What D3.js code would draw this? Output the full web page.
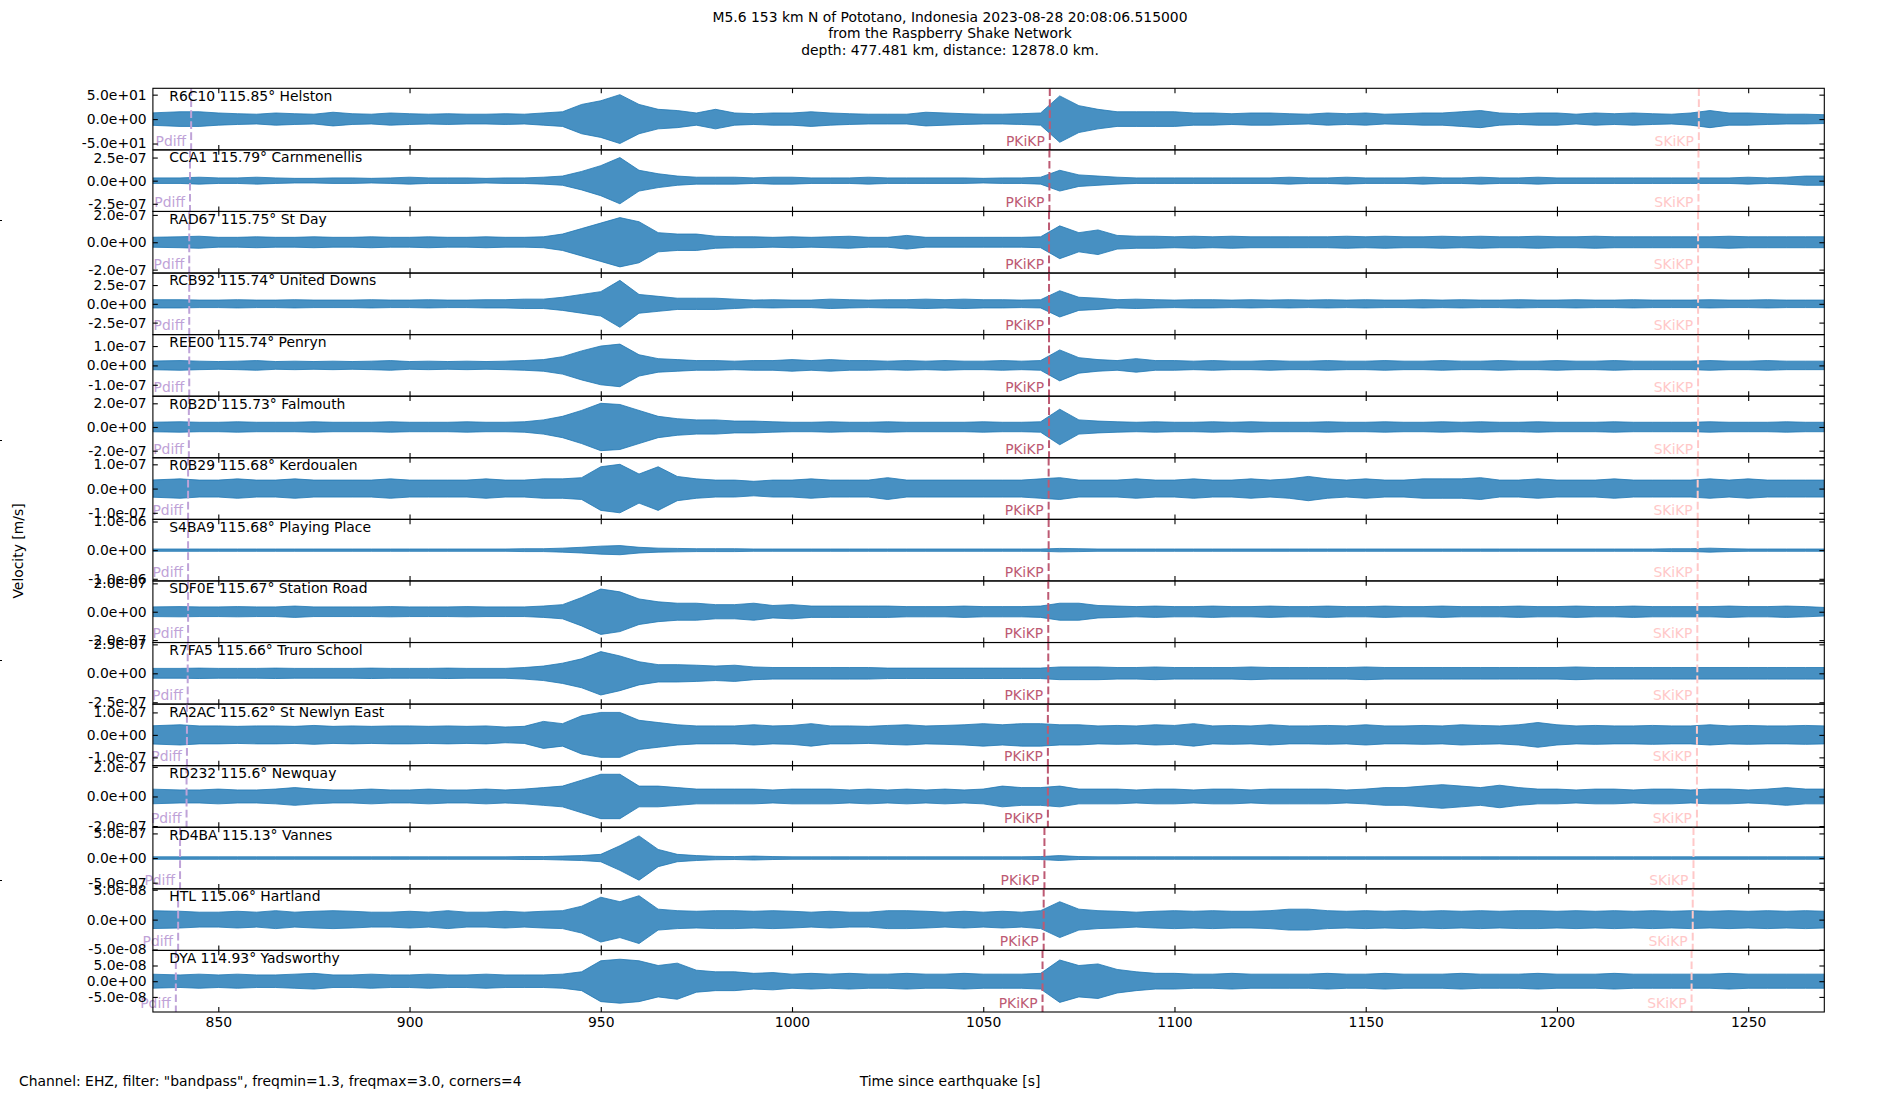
<!DOCTYPE html>
<html>
<head>
<meta charset="utf-8">
<script src="https://cdnjs.cloudflare.com/ajax/libs/d3/7.8.5/d3.min.js"></script>
<style>
  body { margin: 0; background: #fff; }
  svg text { font-family: "DejaVu Sans", sans-serif; }
</style>
</head>
<body>
<div id="chart"></div>
<script>
// ---- data ----
const titleLines = [
  'M5.6 153 km N of Pototano, Indonesia 2023-08-28 20:08:06.515000',
  'from the Raspberry Shake Network',
  'depth: 477.481 km, distance: 12878.0 km.'
];
const footNote = 'Channel: EHZ, filter: "bandpass", freqmin=1.3, freqmax=3.0, corners=4';
const xLabel = 'Time since earthquake [s]';
const yLabel = 'Velocity [m/s]';

const stations = ['R6C10', 'CCA1', 'RAD67', 'RCB92', 'REE00', 'R0B2D', 'R0B29', 'S4BA9',
  'SDF0E', 'R7FA5', 'RA2AC', 'RD232', 'RD4BA', 'HTL', 'DYA'];
const distances = [115.85, 115.79, 115.75, 115.74, 115.74, 115.73, 115.68, 115.68,
  115.67, 115.66, 115.62, 115.6, 115.13, 115.06, 114.93];
const places = ['Helston', 'Carnmenellis', 'St Day', 'United Downs', 'Penryn', 'Falmouth',
  'Kerdoualen', 'Playing Place', 'Station Road', 'Truro School', 'St Newlyn East',
  'Newquay', 'Vannes', 'Hartland', 'Yadsworthy'];

// y tick value (+/-) and the y extent of each row
const yTicks = [50, 2.5e-7, 2.0e-7, 2.5e-7, 1.0e-7, 2.0e-7, 1.0e-7, 1.0e-6,
  2.0e-7, 2.5e-7, 1.0e-7, 2.0e-7, 5.0e-7, 5.0e-8, 5.0e-8];
const yLimits = [63, 3.33e-7, 2.25e-7, 4.1e-7, 1.59e-7, 2.6e-7, 1.27e-7, 1.075e-6,
  2.17e-7, 2.66e-7, 1.37e-7, 2.08e-7, 6.25e-7, 5.15e-8, 9.8e-8];

// phase arrivals per row [s]
const phaseNames = ['Pdiff', 'PKiKP', 'SKiKP'];
const pdiffTimes = [842.9, 842.6, 842.4, 842.4, 842.4, 842.3, 842.1, 842.1,
  842.1, 842.0, 841.8, 841.7, 840.0, 839.5, 838.9];
const pkikpTimes = [1067.4, 1067.3, 1067.2, 1067.2, 1067.2, 1067.2, 1067.1, 1067.1,
  1067.0, 1067.0, 1066.9, 1066.9, 1066.0, 1065.8, 1065.5];
const skikpTimes = [1237.1, 1237.0, 1236.9, 1236.9, 1236.9, 1236.9, 1236.8, 1236.8,
  1236.7, 1236.7, 1236.6, 1236.6, 1235.7, 1235.5, 1235.2];

const xTicks = [850, 900, 950, 1000, 1050, 1100, 1150, 1200, 1250];
const timeRange = [832.9, 1269.9];

// envelope sample times [s]
const sampleTimes = [832, 840, 845, 850, 855, 860, 865, 870, 875, 880,
  885, 890, 895, 900, 905, 910, 915, 920, 925, 930,
  935, 940, 945, 950, 955, 960, 965, 970, 975, 980,
  985, 990, 995, 1000, 1005, 1010, 1015, 1020, 1025, 1030,
  1035, 1040, 1045, 1050, 1055, 1060, 1065, 1070, 1075, 1080,
  1085, 1090, 1095, 1100, 1105, 1110, 1115, 1120, 1125, 1130,
  1135, 1140, 1145, 1150, 1155, 1160, 1165, 1170, 1175, 1180,
  1185, 1190, 1195, 1200, 1205, 1210, 1215, 1220, 1225, 1230,
  1235, 1240, 1245, 1250, 1255, 1260, 1265, 1270];

// trace amplitude envelopes, as multiples of each row's tick value
const envR6C10 = [0.25, 0.3, 0.3, 0.25, 0.22, 0.2, 0.25, 0.22, 0.2, 0.28,
  0.22, 0.2, 0.25, 0.22, 0.2, 0.22, 0.2, 0.2, 0.22, 0.2,
  0.25, 0.3, 0.6, 0.75, 1.0, 0.6, 0.4, 0.35, 0.25, 0.4,
  0.25, 0.22, 0.25, 0.25, 0.3, 0.25, 0.22, 0.2, 0.2, 0.2,
  0.28, 0.25, 0.22, 0.2, 0.2, 0.22, 0.25, 0.95, 0.55, 0.4,
  0.3, 0.3, 0.3, 0.3, 0.25, 0.25, 0.22, 0.25, 0.25, 0.22,
  0.2, 0.25, 0.22, 0.25, 0.2, 0.22, 0.25, 0.25, 0.3, 0.35,
  0.25, 0.22, 0.25, 0.25, 0.2, 0.25, 0.22, 0.25, 0.22, 0.2,
  0.25, 0.35, 0.25, 0.25, 0.22, 0.2, 0.2, 0.18];
const envCCA1 = [0.12, 0.12, 0.15, 0.12, 0.12, 0.15, 0.12, 0.1, 0.1, 0.12,
  0.12, 0.1, 0.12, 0.15, 0.12, 0.12, 0.12, 0.1, 0.12, 0.12,
  0.15, 0.2, 0.4, 0.65, 1.0, 0.45, 0.3, 0.2, 0.15, 0.15,
  0.15, 0.12, 0.15, 0.15, 0.12, 0.12, 0.12, 0.15, 0.12, 0.12,
  0.12, 0.12, 0.12, 0.1, 0.12, 0.12, 0.15, 0.45, 0.25, 0.2,
  0.15, 0.12, 0.12, 0.12, 0.12, 0.12, 0.12, 0.12, 0.12, 0.15,
  0.12, 0.12, 0.15, 0.12, 0.12, 0.12, 0.15, 0.12, 0.12, 0.15,
  0.12, 0.12, 0.15, 0.12, 0.12, 0.12, 0.12, 0.12, 0.12, 0.12,
  0.12, 0.12, 0.12, 0.15, 0.12, 0.15, 0.2, 0.2];
const envRAD67 = [0.18, 0.2, 0.22, 0.18, 0.18, 0.2, 0.18, 0.18, 0.2, 0.18,
  0.18, 0.2, 0.18, 0.18, 0.2, 0.18, 0.18, 0.2, 0.18, 0.18,
  0.2, 0.3, 0.5, 0.7, 0.9, 0.75, 0.35, 0.3, 0.3, 0.22,
  0.2, 0.2, 0.18, 0.2, 0.18, 0.2, 0.22, 0.18, 0.18, 0.25,
  0.18, 0.18, 0.18, 0.18, 0.18, 0.18, 0.2, 0.6, 0.35, 0.45,
  0.25, 0.22, 0.22, 0.2, 0.22, 0.2, 0.22, 0.2, 0.2, 0.2,
  0.2, 0.2, 0.22, 0.2, 0.22, 0.2, 0.2, 0.22, 0.2, 0.22,
  0.2, 0.2, 0.22, 0.2, 0.2, 0.22, 0.2, 0.2, 0.2, 0.2,
  0.2, 0.2, 0.22, 0.2, 0.2, 0.2, 0.2, 0.2];
const envRCB92 = [0.22, 0.22, 0.2, 0.2, 0.22, 0.2, 0.2, 0.22, 0.2, 0.2,
  0.2, 0.22, 0.2, 0.2, 0.22, 0.2, 0.2, 0.22, 0.22, 0.25,
  0.25, 0.35, 0.5, 0.65, 1.25, 0.5, 0.4, 0.3, 0.3, 0.3,
  0.25, 0.2, 0.22, 0.2, 0.2, 0.25, 0.22, 0.2, 0.22, 0.22,
  0.25, 0.22, 0.25, 0.22, 0.22, 0.2, 0.22, 0.7, 0.35, 0.3,
  0.22, 0.25, 0.22, 0.2, 0.22, 0.22, 0.2, 0.22, 0.2, 0.22,
  0.2, 0.22, 0.2, 0.22, 0.2, 0.2, 0.22, 0.2, 0.22, 0.2,
  0.2, 0.22, 0.2, 0.2, 0.22, 0.2, 0.2, 0.22, 0.2, 0.2,
  0.2, 0.22, 0.2, 0.2, 0.22, 0.2, 0.2, 0.2];
const envREE00 = [0.22, 0.25, 0.22, 0.2, 0.22, 0.25, 0.2, 0.22, 0.2, 0.22,
  0.2, 0.22, 0.25, 0.2, 0.22, 0.2, 0.22, 0.2, 0.22, 0.25,
  0.3, 0.45, 0.75, 1.0, 1.1, 0.55, 0.35, 0.3, 0.25, 0.25,
  0.22, 0.25, 0.25, 0.3, 0.25, 0.3, 0.25, 0.25, 0.22, 0.25,
  0.22, 0.25, 0.22, 0.22, 0.25, 0.22, 0.25, 0.8, 0.4, 0.3,
  0.25, 0.35, 0.25, 0.25, 0.22, 0.25, 0.22, 0.22, 0.25, 0.22,
  0.22, 0.25, 0.22, 0.22, 0.25, 0.22, 0.22, 0.25, 0.22, 0.22,
  0.25, 0.22, 0.22, 0.25, 0.22, 0.22, 0.25, 0.22, 0.22, 0.22,
  0.22, 0.25, 0.22, 0.22, 0.25, 0.22, 0.22, 0.22];
const envR0B2D = [0.2, 0.22, 0.2, 0.2, 0.22, 0.2, 0.2, 0.2, 0.22, 0.2,
  0.2, 0.2, 0.22, 0.2, 0.2, 0.2, 0.22, 0.2, 0.2, 0.22,
  0.3, 0.45, 0.7, 1.0, 0.95, 0.7, 0.45, 0.35, 0.3, 0.3,
  0.25, 0.25, 0.22, 0.2, 0.2, 0.22, 0.2, 0.2, 0.22, 0.2,
  0.2, 0.2, 0.2, 0.22, 0.2, 0.2, 0.22, 0.75, 0.3, 0.25,
  0.22, 0.2, 0.22, 0.2, 0.2, 0.22, 0.2, 0.22, 0.2, 0.2,
  0.2, 0.22, 0.2, 0.2, 0.22, 0.2, 0.2, 0.22, 0.2, 0.22,
  0.2, 0.2, 0.22, 0.2, 0.2, 0.2, 0.22, 0.2, 0.2, 0.2,
  0.2, 0.22, 0.2, 0.2, 0.2, 0.22, 0.2, 0.2];
const envR0B29 = [0.35, 0.4, 0.35, 0.35, 0.4, 0.35, 0.35, 0.4, 0.35, 0.35,
  0.35, 0.35, 0.4, 0.35, 0.35, 0.35, 0.35, 0.4, 0.35, 0.35,
  0.4, 0.4, 0.45, 0.9, 1.0, 0.6, 0.9, 0.5, 0.4, 0.35,
  0.35, 0.3, 0.35, 0.35, 0.4, 0.35, 0.35, 0.35, 0.45, 0.35,
  0.35, 0.35, 0.35, 0.35, 0.35, 0.35, 0.4, 0.45, 0.35, 0.35,
  0.35, 0.4, 0.35, 0.35, 0.4, 0.35, 0.35, 0.4, 0.35, 0.4,
  0.5, 0.4, 0.35, 0.4, 0.35, 0.35, 0.4, 0.4, 0.4, 0.45,
  0.35, 0.35, 0.4, 0.35, 0.35, 0.35, 0.4, 0.35, 0.35, 0.35,
  0.35, 0.4, 0.35, 0.4, 0.35, 0.35, 0.35, 0.35];
const envS4BA9 = [0.04, 0.04, 0.04, 0.04, 0.04, 0.04, 0.04, 0.04, 0.04, 0.04,
  0.04, 0.04, 0.04, 0.04, 0.04, 0.04, 0.04, 0.04, 0.04, 0.05,
  0.05, 0.07, 0.1, 0.14, 0.16, 0.1, 0.07, 0.06, 0.05, 0.05,
  0.05, 0.04, 0.04, 0.04, 0.04, 0.04, 0.04, 0.04, 0.04, 0.04,
  0.04, 0.04, 0.04, 0.04, 0.04, 0.04, 0.04, 0.06, 0.05, 0.04,
  0.04, 0.04, 0.04, 0.04, 0.04, 0.04, 0.04, 0.04, 0.04, 0.04,
  0.04, 0.04, 0.04, 0.04, 0.04, 0.04, 0.04, 0.04, 0.04, 0.04,
  0.04, 0.04, 0.04, 0.04, 0.04, 0.04, 0.04, 0.04, 0.04, 0.05,
  0.05, 0.07, 0.05, 0.04, 0.04, 0.04, 0.04, 0.04];
const envSDF0E = [0.17, 0.18, 0.17, 0.17, 0.18, 0.17, 0.17, 0.2, 0.17, 0.17,
  0.17, 0.17, 0.18, 0.17, 0.17, 0.17, 0.18, 0.17, 0.17, 0.17,
  0.2, 0.25, 0.5, 0.8, 0.7, 0.45, 0.35, 0.3, 0.3, 0.25,
  0.25, 0.3, 0.22, 0.25, 0.2, 0.2, 0.2, 0.2, 0.2, 0.18,
  0.18, 0.18, 0.2, 0.18, 0.18, 0.18, 0.2, 0.3, 0.3, 0.22,
  0.2, 0.18, 0.2, 0.18, 0.18, 0.2, 0.18, 0.18, 0.2, 0.18,
  0.18, 0.2, 0.18, 0.18, 0.2, 0.18, 0.18, 0.2, 0.18, 0.18,
  0.18, 0.2, 0.18, 0.18, 0.2, 0.18, 0.18, 0.2, 0.18, 0.18,
  0.18, 0.18, 0.2, 0.18, 0.18, 0.2, 0.18, 0.15];
const envR7FA5 = [0.17, 0.17, 0.18, 0.17, 0.17, 0.17, 0.18, 0.17, 0.17, 0.17,
  0.17, 0.18, 0.17, 0.17, 0.17, 0.18, 0.17, 0.17, 0.17, 0.2,
  0.25, 0.35, 0.5, 0.75, 0.6, 0.4, 0.3, 0.3, 0.28, 0.25,
  0.28, 0.22, 0.2, 0.2, 0.2, 0.2, 0.2, 0.2, 0.18, 0.18,
  0.18, 0.18, 0.18, 0.18, 0.18, 0.18, 0.18, 0.22, 0.22, 0.22,
  0.2, 0.2, 0.22, 0.2, 0.2, 0.2, 0.2, 0.22, 0.2, 0.2,
  0.2, 0.2, 0.2, 0.22, 0.2, 0.2, 0.2, 0.2, 0.2, 0.2,
  0.2, 0.2, 0.2, 0.2, 0.22, 0.2, 0.2, 0.2, 0.2, 0.2,
  0.2, 0.2, 0.2, 0.2, 0.2, 0.2, 0.2, 0.2];
const envRA2AC = [0.4, 0.45, 0.4, 0.4, 0.38, 0.4, 0.4, 0.38, 0.42, 0.38,
  0.4, 0.38, 0.4, 0.4, 0.38, 0.4, 0.38, 0.4, 0.35, 0.38,
  0.6, 0.5, 0.85, 1.0, 1.0, 0.65, 0.55, 0.45, 0.4, 0.4,
  0.4, 0.45, 0.4, 0.42, 0.5, 0.4, 0.4, 0.38, 0.42, 0.45,
  0.4, 0.42, 0.45, 0.5, 0.45, 0.5, 0.5, 0.45, 0.45, 0.4,
  0.42, 0.4, 0.45, 0.42, 0.5, 0.4, 0.42, 0.4, 0.45, 0.4,
  0.4, 0.42, 0.4, 0.45, 0.4, 0.4, 0.42, 0.4, 0.45, 0.42,
  0.4, 0.45, 0.55, 0.45, 0.4, 0.42, 0.4, 0.4, 0.42, 0.4,
  0.4, 0.45, 0.4, 0.42, 0.4, 0.4, 0.42, 0.4];
const envRD232 = [0.25, 0.22, 0.22, 0.25, 0.22, 0.22, 0.25, 0.3, 0.25, 0.22,
  0.22, 0.25, 0.22, 0.22, 0.25, 0.22, 0.22, 0.25, 0.22, 0.25,
  0.3, 0.35, 0.55, 0.75, 0.75, 0.35, 0.35, 0.3, 0.25, 0.25,
  0.25, 0.25, 0.22, 0.25, 0.25, 0.25, 0.22, 0.25, 0.22, 0.25,
  0.22, 0.25, 0.22, 0.25, 0.35, 0.3, 0.3, 0.35, 0.25, 0.25,
  0.25, 0.22, 0.25, 0.25, 0.22, 0.25, 0.25, 0.22, 0.25, 0.25,
  0.25, 0.25, 0.22, 0.25, 0.3, 0.3, 0.35, 0.4, 0.35, 0.3,
  0.38, 0.3, 0.25, 0.25, 0.22, 0.25, 0.25, 0.22, 0.25, 0.25,
  0.22, 0.25, 0.25, 0.22, 0.25, 0.3, 0.25, 0.25];
const envRD4BA = [0.05, 0.05, 0.05, 0.05, 0.05, 0.05, 0.05, 0.05, 0.05, 0.05,
  0.05, 0.05, 0.05, 0.05, 0.05, 0.05, 0.05, 0.05, 0.05, 0.06,
  0.06, 0.08, 0.1, 0.15, 0.5, 0.9, 0.35, 0.15, 0.1, 0.07,
  0.06, 0.08, 0.06, 0.05, 0.05, 0.05, 0.05, 0.05, 0.05, 0.05,
  0.05, 0.05, 0.05, 0.05, 0.05, 0.05, 0.06, 0.1, 0.06, 0.05,
  0.05, 0.05, 0.05, 0.05, 0.05, 0.05, 0.05, 0.05, 0.05, 0.05,
  0.05, 0.05, 0.05, 0.05, 0.05, 0.05, 0.05, 0.05, 0.05, 0.05,
  0.05, 0.05, 0.05, 0.05, 0.05, 0.05, 0.05, 0.05, 0.05, 0.05,
  0.05, 0.05, 0.05, 0.05, 0.05, 0.05, 0.05, 0.05];
const envHTL = [0.3, 0.28, 0.25, 0.25, 0.28, 0.25, 0.3, 0.25, 0.28, 0.3,
  0.28, 0.25, 0.25, 0.28, 0.25, 0.3, 0.25, 0.25, 0.28, 0.25,
  0.28, 0.3, 0.45, 0.75, 0.6, 0.8, 0.35, 0.3, 0.28, 0.3,
  0.3, 0.28, 0.3, 0.28, 0.25, 0.28, 0.25, 0.25, 0.3, 0.3,
  0.28, 0.25, 0.28, 0.25, 0.28, 0.25, 0.3, 0.6, 0.35, 0.3,
  0.28, 0.25, 0.28, 0.3, 0.28, 0.3, 0.28, 0.28, 0.3, 0.35,
  0.35, 0.3, 0.28, 0.3, 0.28, 0.3, 0.28, 0.3, 0.28, 0.3,
  0.28, 0.3, 0.3, 0.28, 0.3, 0.28, 0.3, 0.28, 0.3, 0.28,
  0.3, 0.28, 0.3, 0.28, 0.3, 0.28, 0.3, 0.28];
const envDYA = [0.45, 0.4, 0.45, 0.4, 0.45, 0.4, 0.4, 0.45, 0.5, 0.4,
  0.4, 0.45, 0.4, 0.4, 0.45, 0.4, 0.4, 0.45, 0.4, 0.4,
  0.4, 0.45, 0.6, 1.3, 1.4, 1.3, 1.0, 1.15, 0.7, 0.6,
  0.6, 0.5, 0.55, 0.45, 0.5, 0.45, 0.5, 0.45, 0.45, 0.5,
  0.45, 0.45, 0.5, 0.45, 0.45, 0.45, 0.5, 1.35, 1.0, 1.1,
  0.75, 0.6, 0.5, 0.5, 0.45, 0.45, 0.5, 0.45, 0.45, 0.45,
  0.45, 0.5, 0.45, 0.45, 0.5, 0.45, 0.45, 0.45, 0.5, 0.45,
  0.45, 0.45, 0.5, 0.45, 0.45, 0.45, 0.5, 0.45, 0.45, 0.45,
  0.45, 0.45, 0.5, 0.45, 0.45, 0.45, 0.45, 0.45];

const envelopes = [envR6C10, envCCA1, envRAD67, envRCB92, envREE00, envR0B2D, envR0B29,
  envS4BA9, envSDF0E, envR7FA5, envRA2AC, envRD232, envRD4BA, envHTL, envDYA];

// ---- layout ----
const width = 1900;
const height = 1100;
const margin = { left: 152.9, right: 1824.3, top: 88.3, bottom: 1012 };
const fontSize = 13.9;
const tickLen = 4.9;
const traceColor = '#1f77b4';
const phaseColors = ['#bfa3d8', '#bd5a73', '#ffc8c8'];

const svg = d3.select('#chart')
  .append('svg')
  .attr('width', width)
  .attr('height', height);

const x = d3.scaleLinear()
  .domain(timeRange)
  .range([margin.left, margin.right]);

const rows = d3.scaleBand()
  .domain(d3.range(stations.length))
  .range([margin.top, margin.bottom])
  .padding(0);

const rowH = rows.bandwidth();

// matplotlib style "%.1e"
function sci(v) {
  if (v === 0) return '0.0e+00';
  const parts = v.toExponential(1).split('e');
  const sign = parts[1][0];
  const digits = parts[1].slice(1).padStart(2, '0');
  return parts[0] + 'e' + sign + digits;
}

function styleAxis(g) {
  g.attr('font-size', fontSize)
    .attr('font-family', '"DejaVu Sans", sans-serif');
  g.select('.domain').remove();
  g.selectAll('.tick line').attr('stroke', '#000').attr('stroke-width', 1.1);
  g.selectAll('.tick text').attr('fill', '#000');
}

stations.forEach((code, i) => {
  const top = rows(i);
  const bottom = top + rowH;
  const tick = yTicks[i];

  const y = d3.scaleLinear()
    .domain([-yLimits[i], yLimits[i]])
    .range([bottom, top]);

  const group = svg.append('g').attr('class', 'row');

  const clipId = 'clip' + i;
  svg.append('clipPath')
    .attr('id', clipId)
    .append('rect')
    .attr('x', margin.left)
    .attr('y', top)
    .attr('width', margin.right - margin.left)
    .attr('height', rowH);

  // trace envelope
  const env = envelopes[i];
  const pts = sampleTimes.map((t, k) => ({ t: t, a: env[k] * tick }))
    .filter(d => d.a !== undefined && !isNaN(d.a));
  const area = d3.area()
    .x(d => x(d.t))
    .y0(d => y(-d.a))
    .y1(d => y(d.a));

  group.append('path')
    .attr('clip-path', `url(#${clipId})`)
    .attr('d', area(pts))
    .attr('fill', traceColor)
    .attr('fill-opacity', 0.82)
    .attr('stroke', traceColor)
    .attr('stroke-width', 0.8)
    .attr('stroke-linejoin', 'round');

  // phase arrivals
  const times = [pdiffTimes[i], pkikpTimes[i], skikpTimes[i]];
  times.forEach((t, p) => {
    group.append('line')
      .attr('x1', x(t)).attr('x2', x(t))
      .attr('y1', top).attr('y2', bottom)
      .attr('stroke', phaseColors[p])
      .attr('stroke-width', 2)
      .attr('stroke-dasharray', '7.7,3.3');
    group.append('text')
      .attr('x', x(t) - 5)
      .attr('y', bottom - 4.2)
      .attr('text-anchor', 'end')
      .attr('font-size', fontSize)
      .attr('fill', phaseColors[p])
      .text(phaseNames[p]);
  });

  // station label
  group.append('text')
    .attr('x', margin.left + 16.4)
    .attr('y', top + 12.4)
    .attr('font-size', fontSize)
    .attr('fill', '#000')
    .text(`${code} ${distances[i]}° ${places[i]}`);

  // axes, ticks pointing inward
  const yVals = [-tick, 0, tick];
  group.append('g')
    .attr('transform', `translate(${margin.left},0)`)
    .call(d3.axisLeft(y).tickValues(yVals).tickFormat(sci)
      .tickSizeInner(-tickLen).tickSizeOuter(0).tickPadding(6.2))
    .call(styleAxis);
  group.append('g')
    .attr('transform', `translate(${margin.right},0)`)
    .call(d3.axisRight(y).tickValues(yVals).tickFormat('')
      .tickSizeInner(-tickLen).tickSizeOuter(0))
    .call(styleAxis);
  group.append('g')
    .attr('transform', `translate(0,${top})`)
    .call(d3.axisTop(x).tickValues(xTicks).tickFormat('')
      .tickSizeInner(-tickLen).tickSizeOuter(0))
    .call(styleAxis);
  const last = i === stations.length - 1;
  group.append('g')
    .attr('transform', `translate(0,${bottom})`)
    .call(d3.axisBottom(x).tickValues(xTicks)
      .tickFormat(last ? d3.format('d') : '')
      .tickSizeInner(-tickLen).tickSizeOuter(0).tickPadding(5.5))
    .call(styleAxis);

  // frame
  group.append('rect')
    .attr('x', margin.left)
    .attr('y', top)
    .attr('width', margin.right - margin.left)
    .attr('height', rowH)
    .attr('fill', 'none')
    .attr('stroke', '#000')
    .attr('stroke-width', 1.1);
});

// stray ticks of the figure-wide axes at the left edge
const figY = d3.scaleLinear().domain([0, 1]).range([height, 0]);
svg.append('g')
  .attr('transform', 'translate(2,0)')
  .call(d3.axisLeft(figY).tickValues([0.2, 0.4, 0.6, 0.8]).tickFormat('')
    .tickSizeInner(tickLen).tickSizeOuter(0))
  .call(styleAxis);

// titles and labels
svg.append('text')
  .attr('x', width / 2)
  .attr('text-anchor', 'middle')
  .attr('font-size', fontSize)
  .selectAll('tspan')
  .data(titleLines)
  .enter()
  .append('tspan')
  .attr('x', width / 2)
  .attr('y', (d, k) => 21.7 + k * 16.4)
  .text(d => d);

svg.append('text')
  .attr('transform', 'translate(23,551) rotate(-90)')
  .attr('text-anchor', 'middle')
  .attr('font-size', fontSize)
  .text(yLabel);

svg.append('text')
  .attr('x', width / 2)
  .attr('y', 1086)
  .attr('text-anchor', 'middle')
  .attr('font-size', fontSize)
  .text(xLabel);

svg.append('text')
  .attr('x', 19)
  .attr('y', 1086)
  .attr('font-size', fontSize)
  .text(footNote);
</script>
</body>
</html>
